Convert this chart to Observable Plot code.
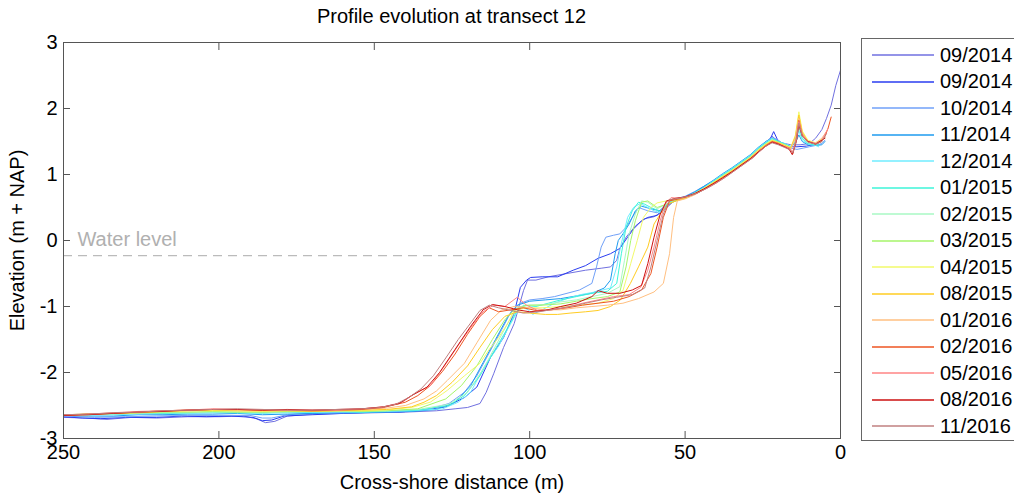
<!DOCTYPE html>
<html><head><meta charset="utf-8">
<script src="https://cdn.jsdelivr.net/npm/d3@7"></script>
<script src="https://cdn.jsdelivr.net/npm/@observablehq/plot@0.6"></script>
<style>
body{margin:0;background:#fff;font-family:"Liberation Sans",Arial,sans-serif;}
#wrap{position:relative;width:1014px;height:494px;overflow:hidden;background:#fff;}
#chart{position:absolute;left:0;top:0;}
#title{position:absolute;top:5px;left:63px;width:777px;text-align:center;font-size:20px;color:#000;}
#legend{position:absolute;left:861px;top:38px;width:170px;height:403px;border:1px solid #666;background:#fff;box-sizing:border-box;}
.row{position:absolute;left:0;height:26px;display:flex;align-items:center;font-size:20px;color:#000;white-space:nowrap;}
.row svg{margin-left:10px;}
.row span{margin-left:6px;}
</style></head><body>
<div id="wrap"><div id="chart"></div><div id="title">Profile evolution at transect 12</div><div id="legend"></div></div>
<script>
// Survey dates (legend labels)
const labels = ["09/2014","09/2014","10/2014","11/2014","12/2014","01/2015","02/2015","03/2015","04/2015","08/2015","01/2016","02/2016","05/2016","08/2016","11/2016"];
const colors = ["#7070e0","#2a3cf0","#70a0f8","#1e9bef","#70ecff","#3cf5d8","#a8f8c4","#a6f56a","#f2fa6a","#ffcc22","#ffbf80","#ee5522","#ff8585","#cc1111","#c08080"];

// Profiles: [cross-shore distance (m), elevation (m + NAP)]
const p0914a = [[250,-2.68],[243,-2.69],[236,-2.71],[228,-2.68],[220,-2.69],[210,-2.67],[200,-2.67],[192,-2.66],[188,-2.7],[185,-2.76],[182,-2.74],[178,-2.66],[170,-2.63],[160,-2.62],[150,-2.61],[140,-2.6],[130,-2.58],[124,-2.55],[120,-2.53],[116,-2.47],[114,-2.3],[111.6,-2.02],[108.4,-1.62],[105,-1.26],[102,-0.76],[100.7,-0.6],[98,-0.6],[94,-0.55],[88,-0.5],[82,-0.45],[77,-0.42],[74,-0.4],[72,-0.3],[71,-0.12],[69,0.05],[66,0.22],[63,0.33],[60,0.36],[57,0.45],[54,0.58],[50,0.66],[47,0.72],[44,0.8],[41,0.88],[38,0.98],[35,1.07],[32,1.16],[29,1.27],[26.5,1.39],[24,1.48],[22,1.58],[20,1.5],[18,1.47],[16,1.45],[13,1.45],[10,1.47],[8,1.55],[6,1.68],[4.5,1.85],[3,2.05],[1.5,2.35],[0,2.58]];
const p0914b = [[250,-2.67],[244,-2.69],[238,-2.7],[230,-2.68],[220,-2.68],[212,-2.66],[204,-2.67],[196,-2.66],[189,-2.68],[186,-2.73],[183,-2.72],[179,-2.66],[170,-2.64],[160,-2.62],[150,-2.6],[142,-2.6],[134,-2.57],[127,-2.52],[121,-2.38],[117,-2.22],[112.6,-1.77],[108.4,-1.47],[105,-1.1],[103,-0.71],[101,-0.6],[99.7,-0.56],[96,-0.55],[91,-0.55],[86,-0.45],[82,-0.38],[78,-0.27],[74,-0.2],[71,-0.12],[68.5,0.05],[66.5,0.18],[64,0.3],[62,0.35],[59,0.38],[56,0.52],[53,0.62],[50,0.66],[47,0.73],[44,0.81],[41,0.9],[38,0.99],[35,1.08],[32,1.18],[29,1.28],[26.5,1.39],[24,1.47],[22.5,1.55],[21.5,1.65],[20,1.5],[18,1.46],[16,1.42],[14,1.42],[11,1.43],[9,1.45],[7,1.48],[6,1.52]];
const p1014 = [[250,-2.66],[240,-2.68],[230,-2.67],[220,-2.66],[210,-2.65],[200,-2.65],[190,-2.65],[186,-2.69],[183,-2.69],[178,-2.64],[168,-2.62],[158,-2.61],[148,-2.6],[140,-2.59],[132,-2.55],[126,-2.47],[121,-2.3],[117,-2.05],[113,-1.7],[109,-1.35],[106,-1.08],[103,-0.95],[100,-0.9],[96,-0.88],[92,-0.85],[88,-0.8],[84,-0.75],[80,-0.65],[78.5,-0.4],[77,-0.1],[75.5,0.05],[73,0.08],[71,0.1],[69,0.2],[67,0.35],[65,0.5],[62,0.45],[59,0.42],[56,0.55],[53,0.63],[50,0.67],[47,0.74],[44,0.82],[41,0.9],[38,1.0],[35,1.09],[32,1.19],[29,1.29],[26.5,1.4],[24,1.5],[22,1.56],[20,1.52],[18,1.45],[16,1.4],[14,1.38],[12,1.4],[10,1.42],[8,1.44],[6,1.47],[5,1.52]];
const p1114 = [[250,-2.65],[242,-2.66],[234,-2.66],[226,-2.64],[218,-2.64],[210,-2.63],[202,-2.63],[194,-2.62],[186,-2.64],[178,-2.63],[170,-2.62],[162,-2.61],[154,-2.61],[146,-2.6],[138,-2.59],[130,-2.56],[124,-2.45],[119,-2.2],[115,-1.85],[111,-1.5],[107,-1.15],[104,-0.98],[100,-0.92],[95,-0.9],[90,-0.88],[85,-0.84],[80,-0.8],[76,-0.72],[74,-0.6],[72.5,-0.2],[71.5,0.0],[70,0.1],[68,0.25],[66,0.45],[64,0.52],[61,0.48],[58,0.45],[55,0.57],[53,0.62],[50,0.66],[47,0.73],[44,0.82],[41,0.91],[38,1.01],[35,1.1],[32,1.2],[29,1.3],[26.5,1.41],[24,1.5],[22,1.55],[20,1.5],[18,1.46],[16,1.42],[14.5,1.48],[13.4,1.6],[12.3,1.5],[10.5,1.45],[8,1.44],[6,1.45],[5,1.5]];
const p1214 = [[250,-2.65],[242,-2.65],[234,-2.64],[226,-2.63],[218,-2.62],[210,-2.62],[202,-2.61],[194,-2.61],[186,-2.62],[178,-2.61],[170,-2.6],[162,-2.6],[154,-2.6],[146,-2.59],[138,-2.58],[128,-2.55],[123,-2.45],[119,-2.3],[114.5,-1.9],[110,-1.6],[106,-1.25],[103,-1.0],[100.5,-1.05],[99,-1.12],[96,-1.05],[92,-0.95],[88,-0.88],[83.6,-0.82],[79,-0.78],[74,-0.72],[72,-0.4],[70.8,-0.1],[68.5,0.35],[66.6,0.5],[64.5,0.56],[62,0.5],[60,0.45],[58,0.42],[55,0.57],[53,0.61],[50,0.65],[47,0.72],[44,0.8],[41,0.9],[38,1.0],[35,1.09],[32,1.19],[29,1.29],[26.5,1.4],[24,1.49],[22,1.55],[20,1.5],[18,1.47],[16,1.43],[14.5,1.5],[13.4,1.66],[12.3,1.52],[10.5,1.46],[8,1.44],[7,1.42]];
const p0115 = [[250,-2.64],[242,-2.64],[234,-2.63],[226,-2.62],[218,-2.62],[210,-2.61],[202,-2.6],[194,-2.61],[186,-2.61],[178,-2.6],[170,-2.6],[162,-2.59],[154,-2.6],[146,-2.58],[136,-2.57],[126,-2.5],[121,-2.35],[116,-2.05],[112,-1.72],[108,-1.4],[104.5,-1.1],[102,-0.98],[98,-1.0],[94,-0.95],[90,-0.9],[85,-0.85],[80,-0.8],[75,-0.77],[72,-0.65],[70.5,-0.2],[69,0.2],[67,0.45],[65,0.58],[63,0.55],[61,0.5],[58,0.44],[55,0.58],[53,0.61],[50,0.65],[47,0.72],[44,0.8],[41,0.89],[38,0.99],[35,1.08],[32,1.18],[29,1.28],[26.5,1.39],[24,1.48],[22,1.54],[20,1.5],[18,1.46],[16,1.42],[14.5,1.5],[13.4,1.72],[12.3,1.55],[10.5,1.47],[8,1.45],[7,1.45]];
const p0215 = [[250,-2.65],[242,-2.64],[234,-2.63],[226,-2.62],[218,-2.61],[210,-2.61],[202,-2.6],[194,-2.6],[186,-2.61],[178,-2.6],[170,-2.59],[162,-2.59],[154,-2.59],[146,-2.58],[136,-2.56],[126,-2.48],[120,-2.3],[115,-1.95],[111,-1.6],[107,-1.25],[104,-1.02],[100,-0.98],[95,-0.97],[90,-0.93],[85,-0.9],[80,-0.85],[75,-0.8],[71,-0.7],[69.5,-0.3],[68,0.1],[66,0.4],[64,0.6],[62,0.58],[59,0.48],[56,0.55],[53,0.61],[50,0.65],[47,0.71],[44,0.79],[41,0.88],[38,0.98],[35,1.07],[32,1.17],[29,1.27],[26.5,1.38],[24,1.47],[22,1.53],[20,1.49],[18,1.45],[16,1.41],[14.5,1.52],[13.4,1.75],[12.3,1.58],[10.5,1.48],[8,1.46],[6,1.5]];
const p0315 = [[250,-2.64],[242,-2.63],[234,-2.62],[226,-2.61],[218,-2.6],[210,-2.6],[202,-2.59],[194,-2.6],[186,-2.6],[178,-2.59],[170,-2.59],[162,-2.58],[154,-2.59],[146,-2.58],[136,-2.55],[127,-2.4],[122,-2.2],[117,-1.9],[112,-1.5],[108,-1.2],[105,-1.05],[101,-0.98],[96,-0.98],[90,-0.96],[85,-0.92],[80,-0.88],[75,-0.85],[71,-0.78],[69,-0.4],[67.5,0.0],[66,0.3],[64,0.58],[62,0.6],[59,0.5],[56,0.55],[53,0.6],[50,0.64],[47,0.7],[44,0.78],[41,0.87],[38,0.97],[35,1.06],[32,1.16],[29,1.26],[26.5,1.37],[24,1.46],[22,1.52],[20,1.49],[18,1.45],[16,1.4],[14.5,1.55],[13.4,1.8],[12.3,1.6],[10.5,1.5],[8,1.47],[6,1.52]];
const p0415 = [[250,-2.64],[242,-2.63],[234,-2.62],[226,-2.6],[218,-2.59],[210,-2.58],[202,-2.58],[194,-2.58],[186,-2.59],[178,-2.58],[170,-2.58],[162,-2.58],[154,-2.58],[146,-2.57],[138,-2.53],[132,-2.45],[128,-2.32],[126.5,-2.27],[121,-2.05],[116,-1.86],[113,-1.65],[110,-1.47],[107,-1.25],[105,-1.06],[101,-1.02],[96,-1.02],[90,-1.0],[84,-0.98],[78,-0.95],[73,-0.88],[70,-0.76],[67.5,-0.35],[65.4,0.0],[63.4,0.35],[61,0.5],[59,0.57],[56,0.6],[53,0.62],[50,0.65],[47,0.71],[44,0.79],[41,0.88],[38,0.97],[35,1.06],[32,1.16],[29,1.26],[26.5,1.37],[24,1.46],[22,1.52],[20,1.48],[18,1.45],[16,1.41],[14.5,1.6],[13.4,1.95],[12.3,1.66],[10.5,1.52],[8,1.48],[5.5,1.55]];
const p0815 = [[250,-2.65],[242,-2.63],[234,-2.62],[226,-2.61],[218,-2.59],[210,-2.58],[202,-2.57],[194,-2.58],[186,-2.58],[178,-2.58],[170,-2.59],[162,-2.58],[154,-2.57],[146,-2.56],[138,-2.52],[134,-2.45],[130,-2.35],[125,-2.15],[120,-1.9],[116,-1.62],[112,-1.35],[108,-1.15],[104,-1.08],[100,-1.1],[95,-1.12],[91,-1.12],[87,-1.1],[82,-1.08],[78,-1.06],[74,-1.0],[70.8,-0.9],[67.6,-0.65],[65,-0.4],[62,-0.1],[60,0.25],[58,0.4],[55.5,0.55],[53,0.6],[50,0.64],[47,0.7],[44,0.78],[41,0.87],[38,0.96],[35,1.05],[32,1.15],[29,1.25],[26.5,1.36],[24,1.45],[22,1.51],[20,1.48],[18,1.44],[16,1.4],[14.5,1.58],[13.4,1.9],[12.3,1.64],[10.5,1.5],[8,1.47],[5,1.55]];
const p0116 = [[250,-2.65],[242,-2.64],[234,-2.61],[226,-2.6],[218,-2.58],[210,-2.57],[202,-2.56],[194,-2.57],[186,-2.57],[178,-2.57],[170,-2.58],[162,-2.57],[154,-2.56],[146,-2.54],[140,-2.5],[134,-2.4],[130,-2.28],[126.5,-2.12],[121,-1.86],[117,-1.55],[112.6,-1.21],[109,-1.05],[105,-1.0],[100,-1.02],[95,-1.05],[90,-1.05],[85,-1.02],[80,-1.0],[75,-0.98],[70,-0.95],[65,-0.88],[60,-0.78],[57,-0.65],[55,-0.2],[53.7,0.35],[52.5,0.6],[50,0.63],[47,0.69],[44,0.77],[41,0.86],[38,0.95],[35,1.04],[32,1.14],[29,1.24],[26.5,1.35],[24,1.44],[22,1.5],[20,1.47],[18,1.43],[16,1.38],[14.5,1.56],[13.4,1.85],[12.3,1.62],[10.5,1.5],[8,1.48],[6,1.55],[4.5,1.65]];
const p0216 = [[250,-2.65],[242,-2.63],[234,-2.62],[226,-2.6],[218,-2.58],[210,-2.57],[202,-2.56],[194,-2.56],[186,-2.57],[178,-2.57],[170,-2.58],[162,-2.57],[154,-2.56],[147,-2.53],[140,-2.45],[136,-2.35],[132,-2.2],[128,-1.98],[124,-1.72],[120,-1.42],[116,-1.15],[113,-1.02],[110,-1.08],[106,-1.05],[102,-1.02],[98,-1.06],[93,-1.05],[88,-1.02],[83,-0.98],[78,-0.95],[73,-0.92],[68,-0.85],[64,-0.75],[61,-0.5],[59,-0.1],[57,0.35],[55,0.6],[52,0.63],[49,0.67],[46,0.72],[43,0.8],[40,0.88],[37,0.97],[34,1.07],[31,1.17],[28,1.27],[26,1.36],[24,1.44],[22,1.5],[20,1.47],[18,1.42],[16.5,1.4],[15.3,1.32],[14.2,1.55],[13.4,1.82],[12.3,1.6],[10.5,1.5],[8,1.46],[6,1.5],[5,1.58],[4,1.7],[3,1.87]];
const p0516 = [[250,-2.64],[242,-2.63],[234,-2.61],[226,-2.59],[218,-2.58],[210,-2.57],[202,-2.55],[194,-2.56],[186,-2.56],[178,-2.57],[170,-2.57],[162,-2.57],[154,-2.55],[147,-2.52],[141,-2.45],[137,-2.32],[132,-2.2],[127.7,-1.92],[122,-1.52],[119,-1.32],[115,-1.08],[111.6,-0.98],[108,-1.0],[104,-0.86],[101,-0.98],[97.5,-1.06],[93,-1.05],[88,-1.01],[83,-0.95],[78,-0.9],[73,-0.85],[68,-0.82],[64.3,-0.71],[62,-0.45],[60,-0.1],[58,0.3],[56.5,0.55],[54.5,0.65],[52,0.64],[49,0.67],[46,0.72],[43,0.79],[40,0.87],[37,0.96],[34,1.06],[31,1.16],[28,1.26],[26,1.35],[24,1.43],[22,1.49],[20,1.46],[18,1.42],[16.5,1.4],[15.3,1.35],[14.2,1.55],[13.4,1.8],[12.3,1.6],[10.5,1.5],[8,1.47],[6,1.52],[4,1.7]];
const p0816 = [[250,-2.65],[242,-2.64],[234,-2.62],[226,-2.6],[218,-2.59],[210,-2.57],[202,-2.56],[194,-2.56],[186,-2.57],[178,-2.56],[170,-2.57],[162,-2.56],[154,-2.55],[147,-2.52],[142,-2.47],[138,-2.35],[133,-2.22],[129,-2.0],[124,-1.65],[119,-1.3],[115,-1.05],[112,-0.97],[108,-1.0],[104,-1.05],[100,-1.08],[95,-1.06],[90,-1.0],[85,-0.95],[80,-0.85],[78,-0.76],[75,-0.8],[71,-0.8],[67,-0.75],[64,-0.68],[62,-0.35],[60,0.05],[58,0.4],[56,0.6],[53,0.64],[50,0.66],[47,0.71],[44,0.78],[41,0.86],[38,0.95],[35,1.04],[32,1.14],[29,1.24],[26.5,1.34],[24,1.43],[22,1.49],[20,1.46],[18,1.42],[16.5,1.38],[15.5,1.3],[14.2,1.5],[13.4,1.75],[12.3,1.58],[10.5,1.5],[8,1.46],[5,1.55]];
const p1116 = [[250,-2.64],[242,-2.63],[234,-2.61],[226,-2.6],[218,-2.58],[210,-2.57],[202,-2.56],[194,-2.55],[186,-2.56],[178,-2.57],[170,-2.57],[162,-2.56],[154,-2.55],[148,-2.53],[143,-2.48],[139,-2.38],[135,-2.25],[131,-2.05],[127,-1.78],[123,-1.5],[119,-1.25],[116,-1.06],[113,-0.98],[110,-1.02],[106,-1.06],[102,-1.1],[97,-1.08],[92,-1.04],[87,-1.0],[82,-0.95],[77,-0.9],[72,-0.86],[67,-0.82],[63,-0.72],[61,-0.4],[59,0.0],[57,0.4],[55,0.62],[52,0.64],[49,0.67],[46,0.72],[43,0.79],[40,0.87],[37,0.96],[34,1.06],[31,1.16],[28,1.26],[26,1.35],[24,1.43],[22,1.48],[20,1.45],[18,1.41],[16.5,1.38],[15.3,1.33],[14.2,1.52],[13.4,1.78],[12.3,1.58],[10.5,1.49],[8,1.46],[6,1.5],[4.5,1.62]];

const profiles = [p0914a,p0914b,p1014,p1114,p1214,p0115,p0215,p0315,p0415,p0815,p0116,p0216,p0516,p0816,p1116];

// Axis ticks
const xTicks = [250,200,150,100,50,0];
const yTicks = [-3,-2,-1,0,1,2,3];

// Water level annotation
const waterLevel = -0.23;
const waterExtent = [250, 111];
const waterLabelX = 245.5;

const rows = profiles.flatMap((p, i) => p.map(([x, z]) => ({x, z, id: i})));
const ids = labels.map((_, i) => i);
const plain = d => `${d}`;

const font = '"Liberation Sans", Arial, sans-serif';
const chart = Plot.plot({
  width: 860, height: 494,
  marginLeft: 63, marginRight: 20, marginTop: 42, marginBottom: 56,
  style: {fontFamily: font, fontSize: "20px", color: "#000", background: "transparent", overflow: "visible"},
  x: {domain: [250, 0], ticks: xTicks, label: null},
  y: {domain: [-3, 3], ticks: yTicks, label: null},
  color: {type: "ordinal", domain: ids, range: colors},
  marks: [
    Plot.ruleY([waterLevel], {x1: waterExtent[0], x2: waterExtent[1], stroke: "#bbbbbb", strokeWidth: 1.2, strokeDasharray: "9,6"}),
    Plot.text(["Water level"], {x: waterLabelX, y: waterLevel, text: d => d, textAnchor: "start", dy: -16, fill: "#b0b0b0", fontSize: 20}),
    Plot.line(rows, {x: "x", y: "z", z: "id", stroke: "id", strokeWidth: 1, curve: "linear"}),
    Plot.frame({stroke: "#555"}),
    Plot.axisX({anchor: "bottom", ticks: xTicks, tickFormat: plain, tickSize: -7, tickPadding: 13, stroke: "#555", label: "Cross-shore distance (m)", labelAnchor: "center", labelArrow: "none", labelOffset: 50}),
    Plot.axisX({anchor: "top", ticks: xTicks, tickSize: -7, tickFormat: () => "", stroke: "#555", label: null}),
    Plot.axisY({anchor: "left", ticks: yTicks, tickFormat: plain, tickSize: -7, tickPadding: 13, stroke: "#555", label: "Elevation (m + NAP)", labelAnchor: "center", labelArrow: "none", labelOffset: 54}),
    Plot.axisY({anchor: "right", ticks: yTicks, tickSize: -7, tickFormat: () => "", stroke: "#555", label: null})
  ]
});
document.getElementById("chart").appendChild(chart);

// Legend
const leg = document.getElementById("legend");
labels.forEach((lab, i) => {
  const row = document.createElement("div");
  row.className = "row";
  row.style.top = (55 - 38 - 1 - 13 + i * 26.5) + "px";
  row.innerHTML = `<svg width="62" height="4"><line x1="0" x2="62" y1="2" y2="2" stroke="${colors[i]}" stroke-width="1.5"/></svg><span>${lab}</span>`;
  leg.appendChild(row);
});
</script></body></html>
